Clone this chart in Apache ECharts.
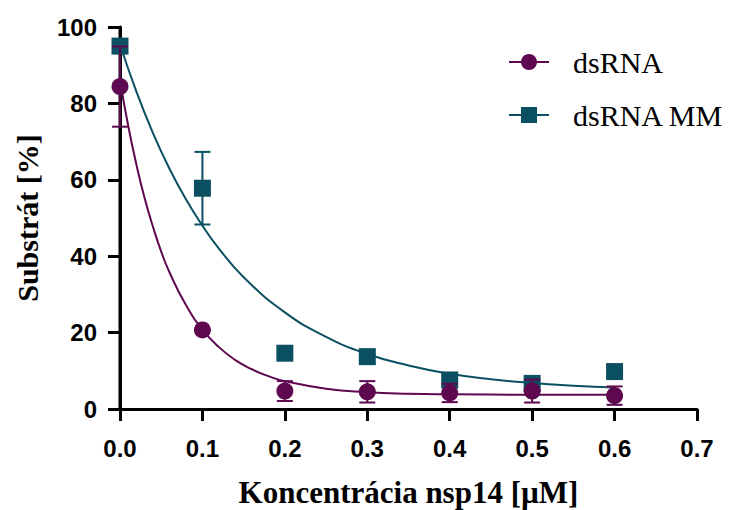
<!DOCTYPE html>
<html><head><meta charset="utf-8">
<script src="https://cdn.jsdelivr.net/npm/echarts@6/dist/echarts.min.js"></script>
<style>html,body{margin:0;padding:0;background:#fff}#c{width:730px;height:510px}</style>
</head><body><div id="c"></div>
<script>
// measured data
const concentrations = [0, 0.1, 0.2, 0.3, 0.4, 0.5, 0.6];
const dsRNA = [84.4, 20.7, 4.7, 4.5, 4.2, 4.7, 3.5];
const dsRNAErr = [10.5, 0, 2.6, 2.8, 2.4, 3.0, 2.4];
const dsRNAMM = [95.0, 57.8, 14.6, 13.7, 7.6, 6.7, 9.8];
const dsRNAMMErr = [0, 9.5, 0, 1.8, 0, 0, 0];
// fitted curves
const fitX_dsRNA = [0, 0.01, 0.02, 0.03, 0.04, 0.05, 0.06, 0.08, 0.10, 0.12, 0.14, 0.16, 0.18, 0.20, 0.25, 0.30, 0.35, 0.40, 0.50, 0.60];
const fitY_dsRNA = [86.0, 74.1, 63.9, 55.1, 47.7, 41.2, 35.8, 27.2, 20.8, 16.2, 12.8, 10.4, 8.6, 7.3, 5.3, 4.4, 4.0, 3.85, 3.73, 3.7];
const fitX_MM = [0, 0.02, 0.04, 0.06, 0.08, 0.10, 0.12, 0.15, 0.20, 0.25, 0.30, 0.35, 0.40, 0.45, 0.50, 0.55, 0.60];
const fitY_MM = [95.5, 83.0, 72.2, 62.9, 54.9, 48.0, 42.0, 34.5, 25.3, 18.9, 14.4, 11.4, 9.25, 7.8, 6.8, 6.1, 5.6];
const xTicks = [0, 0.1, 0.2, 0.3, 0.4, 0.5, 0.6, 0.7];
const yTicks = [0, 20, 40, 60, 80, 100];

const PURPLE = '#5E0850';
const TEAL = '#0B5062';

function pairs(xs, ys) { return xs.map((x, i) => [x, ys[i]]); }
function errData(xs, ys, es) { return xs.map((x, i) => [x, ys[i], es[i]]); }

function errRender(color) {
  return function (params, api) {
    const x = api.value(0), y = api.value(1), e = api.value(2);
    if (!e) return null;
    const top = api.coord([x, y + e]);
    const bot = api.coord([x, y - e]);
    const hw = 8;
    const st = { stroke: color, lineWidth: 2 };
    return {
      type: 'group',
      children: [
        { type: 'line', shape: { x1: top[0], y1: top[1], x2: bot[0], y2: bot[1] }, style: st },
        { type: 'line', shape: { x1: top[0] - hw, y1: top[1], x2: top[0] + hw, y2: top[1] }, style: st },
        { type: 'line', shape: { x1: bot[0] - hw, y1: bot[1], x2: bot[0] + hw, y2: bot[1] }, style: st }
      ]
    };
  };
}

const chart = echarts.init(document.getElementById('c'), null, { renderer: 'svg' });
const tickFont = { fontFamily: 'Liberation Sans, Arial', fontWeight: 'bold', fontSize: 24, color: '#000' };
const nameFont = { fontFamily: 'Liberation Serif, Times New Roman', fontWeight: 'bold', fontSize: 31, color: '#000' };

chart.setOption({
  animation: false,
  grid: { left: 120, right: 33, top: 27, bottom: 101, containLabel: false, outerBoundsMode: 'none' },
  legend: {
    orient: 'vertical',
    left: 503, top: 42,
    itemWidth: 40, itemHeight: 20, itemGap: 23,
    data: ['dsRNA', 'dsRNA MM'],
    textStyle: { fontFamily: 'Liberation Serif, Times New Roman', fontSize: 30, color: '#000', padding: [0, 0, 0, 19] }
  },
  xAxis: {
    type: 'value', min: xTicks[0], max: xTicks[xTicks.length - 1], interval: 0.1,
    name: 'Koncentrácia nsp14 [µM]', nameLocation: 'middle', nameGap: 68, nameTextStyle: nameFont,
    axisLine: { show: true, onZero: false, lineStyle: { color: '#000', width: 3 } },
    axisTick: { show: true, length: 12, lineStyle: { color: '#000', width: 3 } },
    axisLabel: Object.assign({ margin: 27, formatter: v => v.toFixed(1) }, tickFont),
    splitLine: { show: false }
  },
  yAxis: {
    type: 'value', min: yTicks[0], max: yTicks[yTicks.length - 1], interval: 20,
    name: 'Substrát [%]', nameLocation: 'middle', nameGap: 78, nameTextStyle: Object.assign({}, nameFont, { fontSize: 30 }),
    axisLine: { show: true, onZero: false, lineStyle: { color: '#000', width: 3 } },
    axisTick: { show: true, length: 12, lineStyle: { color: '#000', width: 3 } },
    axisLabel: Object.assign({ margin: 23 }, tickFont),
    splitLine: { show: false }
  },
  series: [
    {
      // y axis line, drawn through the axis scale
      name: 'yAxisLine', type: 'line', data: [[xTicks[0], yTicks[0]], [xTicks[0], yTicks[yTicks.length - 1]]],
      symbol: 'none', silent: true, clip: false, lineStyle: { color: '#000', width: 3 }, z: 1
    },
    {
      name: 'dsRNA MM', type: 'line', data: pairs(fitX_MM, fitY_MM), smooth: true,
      symbol: 'rect', showSymbol: false, color: TEAL,
      lineStyle: { color: TEAL, width: 2 }, itemStyle: { color: TEAL }, z: 2
    },
    {
      name: 'dsRNA MM err', type: 'custom', data: errData(concentrations, dsRNAMM, dsRNAMMErr),
      renderItem: errRender(TEAL), z: 3
    },
    {
      name: 'dsRNA MM pts', type: 'scatter', data: pairs(concentrations, dsRNAMM),
      symbol: 'rect', symbolSize: 17, itemStyle: { color: TEAL, opacity: 1 }, z: 4
    },
    {
      name: 'dsRNA', type: 'line', data: pairs(fitX_dsRNA, fitY_dsRNA), smooth: true,
      symbol: 'circle', showSymbol: false, color: PURPLE,
      lineStyle: { color: PURPLE, width: 2 }, itemStyle: { color: PURPLE }, z: 5
    },
    {
      name: 'dsRNA err', type: 'custom', data: errData(concentrations, dsRNA, dsRNAErr),
      renderItem: errRender(PURPLE), z: 6
    },
    {
      name: 'dsRNA pts', type: 'scatter', data: pairs(concentrations, dsRNA),
      symbol: 'circle', symbolSize: 17, itemStyle: { color: PURPLE, opacity: 1 }, z: 7
    }
  ]
});
</script></body></html>
